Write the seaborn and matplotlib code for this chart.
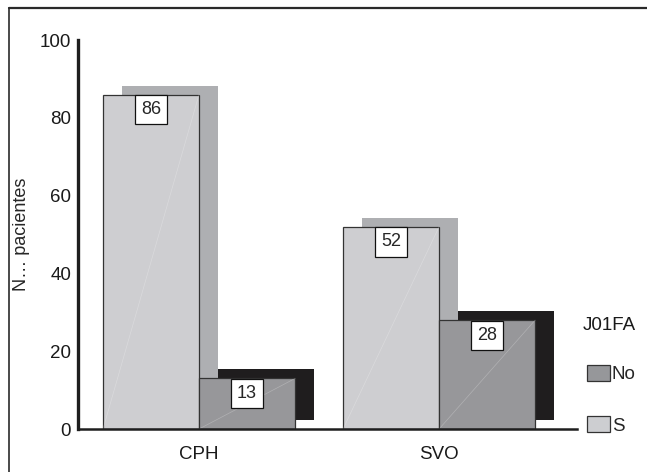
import matplotlib
matplotlib.use("Agg")
import matplotlib.pyplot as plt
import matplotlib.patheffects as pe
from matplotlib.lines import Line2D
from matplotlib.patches import Patch
import seaborn as sns
import pandas as pd

# Patients per centre, split by J01FA use
centres = ["CPH", "SVO"]
groups = ["S", "No"]
s_values = [86, 52]
no_values = [13, 28]

bar_colors = {"S": "#cdced1", "No": "#96979a"}
shadow_colors = {"S": "#aeafb2", "No": "#1f1d1e"}

df = pd.DataFrame({
    "centre": centres * 2,
    "group": ["S"] * len(centres) + ["No"] * len(centres),
    "n": s_values + no_values,
})

sns.set_style("white")
plt.rcParams["font.family"] = ["Liberation Sans", "DejaVu Sans"]

fig = plt.figure(figsize=(6.47, 4.72), dpi=100)
ax = fig.add_axes([0.1206, 0.0911, 0.7714, 0.8239])

sns.barplot(data=df, x="centre", y="n", hue="group", hue_order=groups,
            order=centres, palette=bar_colors, width=0.8, dodge=True,
            edgecolor="#333333", linewidth=0.9, legend=False, ax=ax)

# Drop-shadows and faint diagonals on each bar, then the value boxes
for container, grp in zip(ax.containers, groups):
    for patch, val in zip(container.patches, container.datavalues):
        patch.set_path_effects([
            pe.SimplePatchShadow(offset=(13.5, 6.5),
                                 shadow_rgbFace=shadow_colors[grp], alpha=1.0),
            pe.Normal(),
        ])
        x0 = patch.get_x()
        w = patch.get_width()
        ax.plot([x0, x0 + w], [0, val], color="white", lw=0.5, alpha=0.25,
                zorder=patch.get_zorder() + 0.1)
        ax.annotate(f"{val:.0f}", xy=(x0 + w / 2, val), xytext=(0, -4.8),
                    textcoords="offset points", ha="center", va="top",
                    fontsize=13, zorder=5,
                    bbox=dict(boxstyle="square,pad=0.34", fc="white",
                              ec="#111111", lw=0.9))

ax.set_ylim(0, 100)
ax.set_xlim(-0.504, 1.575)
ax.set_yticks([0, 20, 40, 60, 80, 100])
ax.set_xlabel("")
ax.set_ylabel("N… pacientes", fontsize=13, labelpad=7)

sns.despine(ax=ax, top=True, right=True)
ax.spines["left"].set_linewidth(2.4)
ax.spines["left"].set_color("#1e1e1e")
ax.spines["bottom"].set_linewidth(1.8)
ax.spines["bottom"].set_color("#1e1e1e")
ax.tick_params(axis="both", which="both", direction="out", length=3,
               width=1.5, color="#1e1e1e", labelsize=13.5, labelcolor="#1a1a1a")
ax.tick_params(axis="y", pad=2)
ax.tick_params(axis="x", pad=9)

# Legend with the last level on top, title set above it
handles = [Patch(facecolor=bar_colors[g], edgecolor="#333333", linewidth=0.9)
           for g in groups[::-1]]
fig.legend(handles, groups[::-1], loc="upper left",
           bbox_to_anchor=(0.893, 0.247), frameon=False, fontsize=13.5,
           handlelength=1.2, handleheight=0.95, handletextpad=0.12,
           labelspacing=1.75, borderpad=0.0)
fig.text(0.9, 1 - 326 / 472, "J01FA", fontsize=13.5, color="#1a1a1a",
         ha="left", va="center")

# Page frame along the top and left
fig.add_artist(Line2D([8.5 / 647, 8.5 / 647], [0, 1 - 8 / 472],
                      transform=fig.transFigure, color="#2a2a2a", lw=1.2))
fig.add_artist(Line2D([8.5 / 647, 1], [1 - 8 / 472, 1 - 8 / 472],
                      transform=fig.transFigure, color="#2a2a2a", lw=1.6))

fig.savefig("out.png", dpi=100)
